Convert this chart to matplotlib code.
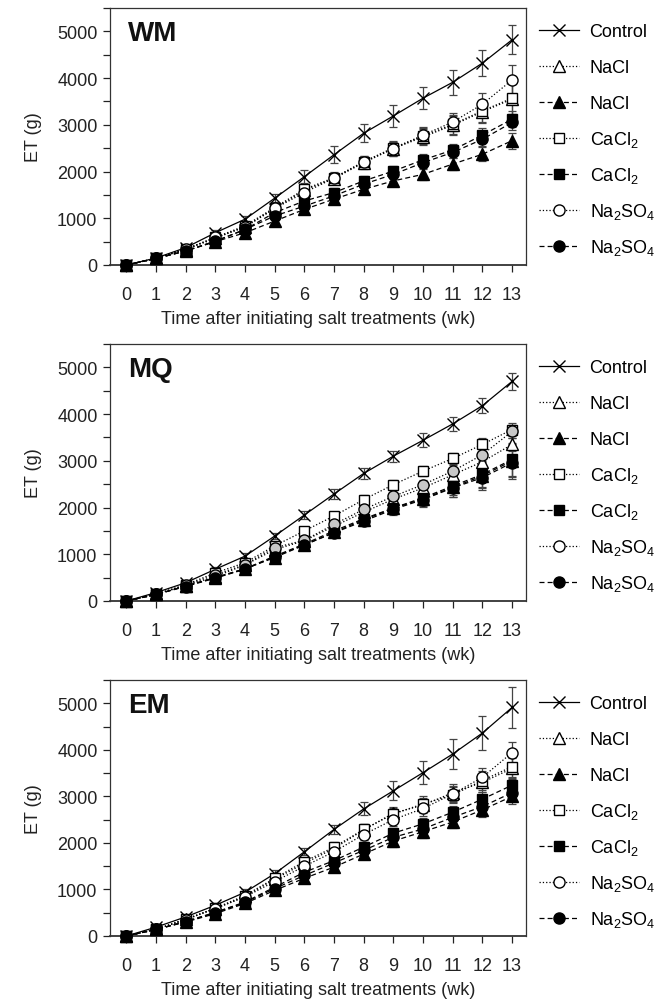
import matplotlib
matplotlib.use("Agg")
import matplotlib.pyplot as plt
from matplotlib.ticker import MultipleLocator
from matplotlib.legend import Legend

plt.rcParams['font.family'] = ['Liberation Sans', 'DejaVu Sans']
plt.rcParams['mathtext.fontset'] = 'custom'
plt.rcParams['mathtext.rm'] = 'Liberation Sans'
plt.rcParams['mathtext.it'] = 'Liberation Sans'

weeks = list(range(14))
panel_names = ["WM", "MQ", "EM"]
legend_labels = ["Control", "NaCl", "NaCl", "CaCl$_2$", "CaCl$_2$", "Na$_2$SO$_4$", "Na$_2$SO$_4$"]

# ---- WM ----
wm_control = [0, 150, 370, 690, 980, 1430, 1890, 2360, 2820, 3190, 3570, 3910, 4320, 4820]
wm_nacl_open = [0, 140, 330, 570, 820, 1210, 1600, 1850, 2190, 2490, 2740, 2990, 3280, 3550]
wm_cacl2_open = [0, 140, 340, 590, 840, 1230, 1620, 1870, 2210, 2510, 2760, 3010, 3300, 3570]
wm_na2so4_open = [0, 140, 340, 590, 810, 1210, 1550, 1860, 2210, 2490, 2780, 3060, 3440, 3960]
wm_nacl_filled = [0, 140, 300, 500, 690, 940, 1190, 1410, 1620, 1800, 1940, 2160, 2370, 2660]
wm_cacl2_filled = [0, 140, 300, 510, 760, 1120, 1370, 1550, 1800, 2010, 2250, 2460, 2780, 3120]
wm_na2so4_filled = [0, 140, 300, 510, 760, 1050, 1260, 1480, 1730, 1940, 2190, 2410, 2690, 3050]
wm_control_err = [0, 20, 40, 60, 70, 90, 140, 180, 190, 230, 230, 270, 280, 310]
wm_open_err = [0, 15, 30, 40, 60, 80, 100, 110, 130, 150, 170, 200, 240, 330]
wm_filled_err = [0, 15, 30, 40, 50, 70, 80, 90, 100, 110, 120, 130, 150, 170]

# ---- MQ ----
mq_control = [0, 180, 390, 680, 960, 1390, 1840, 2290, 2730, 3100, 3440, 3790, 4180, 4700]
mq_nacl_open = [0, 140, 330, 520, 770, 1100, 1290, 1600, 1900, 2180, 2420, 2700, 2980, 3350]
mq_cacl2_open = [0, 150, 350, 600, 820, 1180, 1500, 1820, 2170, 2490, 2780, 3050, 3350, 3670]
mq_na2so4_open = [0, 140, 340, 560, 780, 1140, 1300, 1640, 1960, 2240, 2490, 2780, 3130, 3630]
mq_nacl_filled = [0, 140, 320, 500, 690, 930, 1200, 1470, 1740, 1980, 2190, 2430, 2680, 3000]
mq_cacl2_filled = [0, 140, 320, 500, 690, 960, 1220, 1500, 1760, 1990, 2210, 2460, 2710, 3030]
mq_na2so4_filled = [0, 140, 310, 490, 680, 950, 1200, 1460, 1710, 1960, 2170, 2420, 2640, 2960]
mq_control_err = [0, 20, 40, 50, 60, 70, 90, 110, 120, 120, 150, 150, 160, 180]
mq_open_err = [0, 15, 25, 35, 45, 60, 70, 80, 90, 100, 110, 120, 130, 140]
mq_filled_err = [0, 15, 25, 35, 45, 60, 70, 80, 100, 120, 160, 200, 260, 350]

# ---- EM ----
em_control = [0, 190, 410, 660, 940, 1340, 1810, 2290, 2730, 3120, 3510, 3910, 4360, 4910]
em_nacl_open = [0, 140, 360, 590, 850, 1220, 1560, 1880, 2280, 2640, 2810, 3080, 3300, 3600]
em_cacl2_open = [0, 150, 360, 600, 870, 1240, 1600, 1910, 2290, 2620, 2840, 3030, 3340, 3640]
em_na2so4_open = [0, 140, 350, 590, 840, 1170, 1500, 1810, 2180, 2500, 2740, 3050, 3410, 3940]
em_nacl_filled = [0, 140, 300, 480, 700, 980, 1240, 1480, 1760, 2040, 2240, 2450, 2710, 3000]
em_cacl2_filled = [0, 140, 310, 510, 730, 1050, 1370, 1620, 1910, 2210, 2410, 2660, 2940, 3240]
em_na2so4_filled = [0, 140, 310, 500, 720, 1020, 1300, 1570, 1840, 2120, 2300, 2550, 2780, 3080]
em_control_err = [0, 20, 40, 50, 60, 70, 80, 90, 140, 200, 250, 320, 360, 440]
em_open_err = [0, 15, 25, 35, 45, 60, 80, 100, 120, 140, 160, 180, 200, 230]
em_filled_err = [0, 15, 25, 35, 45, 60, 80, 100, 110, 120, 130, 140, 150, 160]

panels = [
    ("WM", [wm_control, wm_nacl_open, wm_nacl_filled, wm_cacl2_open, wm_cacl2_filled, wm_na2so4_open, wm_na2so4_filled],
     wm_control_err, wm_open_err, wm_filled_err),
    ("MQ", [mq_control, mq_nacl_open, mq_nacl_filled, mq_cacl2_open, mq_cacl2_filled, mq_na2so4_open, mq_na2so4_filled],
     mq_control_err, mq_open_err, mq_filled_err),
    ("EM", [em_control, em_nacl_open, em_nacl_filled, em_cacl2_open, em_cacl2_filled, em_na2so4_open, em_na2so4_filled],
     em_control_err, em_open_err, em_filled_err),
]

# style per series (control, nacl open, nacl filled, cacl2 open, cacl2 filled, na2so4 open, na2so4 filled)
markers = ['x', '^', '^', 's', 's', 'o', 'o']
msizes = [9, 8, 8, 7.5, 7.5, 8, 8]
faces = ['black', 'white', 'black', 'white', 'black', 'white', 'black']
lstyles = ['-', ':', (0, (4, 2.5)), ':', (0, (4, 2.5)), ':', (0, (4, 2.5))]
kinds = ['c', 'o', 'f', 'o', 'f', 'o', 'f']

FIG_W, FIG_H = 668, 1004
fig = plt.figure(figsize=(FIG_W / 100, FIG_H / 100), dpi=100)
# axes boxes in pixels: left, top, right, bottom
boxes = [(110, 9, 526, 266), (110, 345, 526, 602), (110, 681, 526, 937)]
legend_row_offsets = [23.5, 59.5, 95.5, 131.5, 167.5, 203.5, 239.5]  # px below axes top

for (name, series, cerr, oerr, ferr), (l, t, r, b) in zip(panels, boxes):
    ax = fig.add_axes([l / FIG_W, 1 - b / FIG_H, (r - l) / FIG_W, (b - t) / FIG_H])
    handles = []
    for i, ys in enumerate(series):
        err = cerr if kinds[i] == 'c' else (oerr if kinds[i] == 'o' else ferr)
        face = faces[i]
        if name == "MQ" and i == 5:
            face = '#c8c8c8'
        ax.errorbar(weeks, ys, yerr=err, fmt='none', ecolor='#444444', elinewidth=0.9,
                    capsize=3, capthick=0.9, zorder=2 + i * 0.1, clip_on=False)
        h, = ax.plot(weeks, ys, linestyle=lstyles[i], color='black', linewidth=0.9,
                     marker=markers[i], markersize=msizes[i], markerfacecolor=face,
                     markeredgecolor='black', markeredgewidth=1.0, zorder=3 + i * 0.1,
                     clip_on=False)
        if name == "MQ" and i == 5:
            hl, = ax.plot([], [], linestyle=lstyles[i], color='black', linewidth=0.9,
                          marker=markers[i], markersize=msizes[i], markerfacecolor='white',
                          markeredgecolor='black', markeredgewidth=1.0)
            handles.append(hl)
        else:
            handles.append(h)
    ax.set_xlim(-0.55, 13.47)
    ax.set_ylim(0, 5500)
    ax.set_xticks(weeks)
    ax.yaxis.set_major_locator(MultipleLocator(1000))
    ax.yaxis.set_minor_locator(MultipleLocator(500))
    ax.tick_params(axis='both', which='both', direction='out', length=5, width=0.9,
                   labelsize=13, colors='#222222')
    ax.tick_params(axis='x', pad=10)
    ax.tick_params(axis='y', pad=4)
    for sp in ax.spines.values():
        sp.set_color('#333333')
        sp.set_linewidth(0.9)
    ax.spines['bottom'].set_linewidth(1.3)
    ax.set_ylabel("ET (g)", fontsize=13, labelpad=11, color='#222222')
    ax.set_xlabel("Time after initiating salt treatments (wk)", fontsize=13, labelpad=5,
                  color='#222222')
    ax.text(0.043, 0.955, name, transform=ax.transAxes, fontsize=20, fontweight='bold',
            va='top', ha='left', color='#111111')
    h_px = b - t
    w_px = r - l
    for k, (hd, lab) in enumerate(zip(handles, legend_labels)):
        leg = Legend(ax, [hd], [lab], loc='center left',
                     bbox_to_anchor=(1 + 13 / w_px, 1 - legend_row_offsets[k] / h_px),
                     bbox_transform=ax.transAxes,
                     frameon=False, fontsize=13, handlelength=2.2, handletextpad=0.6,
                     borderaxespad=0, borderpad=0)
        ax.add_artist(leg)

fig.savefig("out.png", dpi=100)
